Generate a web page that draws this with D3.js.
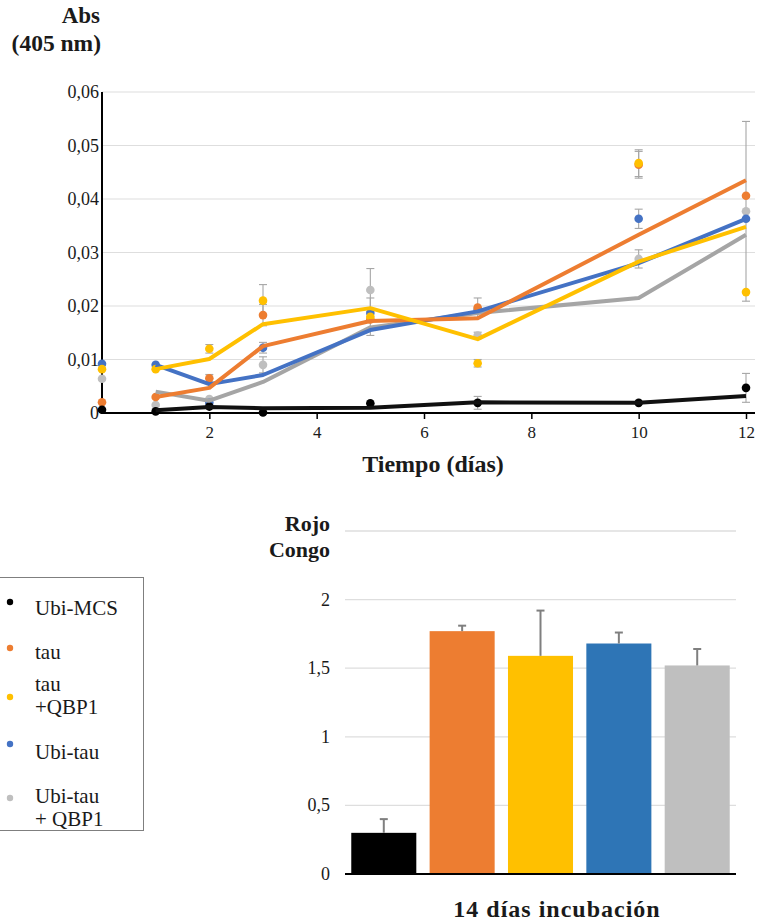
<!DOCTYPE html>
<html>
<head>
<meta charset="utf-8">
<script src="https://cdn.jsdelivr.net/npm/d3@7/dist/d3.min.js"></script>
<style>
  html, body { margin: 0; padding: 0; background: #fff; }
  svg { display: block; }
</style>
</head>
<body>
<svg id="chart" width="769" height="923"></svg>
<script>
// ---- Absorbance over time (top panel) ----
const days = [0, 1, 2, 3, 5, 7, 10, 12];          // days with measured points
const lineDays = [1, 2, 3, 5, 7, 10, 12];         // days on the trend lines
const xTicks = [2, 4, 6, 8, 10, 12];
const yTicksAbs = [0, 0.01, 0.02, 0.03, 0.04, 0.05, 0.06];

const seriesNames = ["Ubi-MCS", "tau", "tau +QBP1", "Ubi-tau", "Ubi-tau + QBP1"];

// measured points
const ptsMCS      = [0.0006, 0.0003, 0.0012, 0.0001, 0.0018, 0.0019, 0.0019, 0.0047];
const ptsTau      = [0.0020, 0.0030, 0.0065, 0.0183, 0.0175, 0.0197, 0.0464, 0.0406];
const ptsTauQ     = [0.0082, 0.0082, 0.0120, 0.0210, 0.0180, 0.0093, 0.0467, 0.0226];
const ptsUbiTau   = [0.0092, 0.0090, 0.0019, 0.0122, 0.0187, 0.0193, 0.0363, 0.0363];
const ptsUbiTauQ  = [0.0064, 0.0015, 0.0026, 0.0090, 0.0230, 0.0145, 0.0288, 0.0377];

// error (± half-width) for each measured point
const errMCS      = [0, 0, 0, 0, 0, 0.0012, 0, 0.0027];
const errTau      = [0, 0, 0.0007, 0.0020, 0, 0.0018, 0.0025, 0];
const errTauQ     = [0, 0, 0.0008, 0.0030, 0.0035, 0.0007, 0.0025, 0];
const errUbiTau   = [0, 0, 0, 0.0010, 0, 0, 0.0018, 0];
const errUbiTauQ  = [0, 0, 0, 0.0015, 0.0040, 0.0006, 0.0017, 0.0168];

// trend lines
const lineMCS     = [0.0005, 0.0011, 0.0009, 0.0010, 0.0020, 0.0019, 0.0032];
const lineTau     = [0.0030, 0.0047, 0.0125, 0.0172, 0.0177, 0.0333, 0.0435];
const lineTauQ    = [0.0082, 0.0101, 0.0166, 0.0196, 0.0138, 0.0283, 0.0348];
const lineUbiTau  = [0.0090, 0.0054, 0.0071, 0.0155, 0.0190, 0.0280, 0.0363];
const lineUbiTauQ = [0.0040, 0.0023, 0.0058, 0.0160, 0.0187, 0.0215, 0.0333];

// ---- Congo red at 14 days (bottom panel) ----
const barValues = [0.30, 1.77, 1.59, 1.68, 1.52];
const barErrors = [0.10, 0.04, 0.33, 0.08, 0.12];
const yTicksCongo = [0, 0.5, 1, 1.5, 2];

const dotColors  = ["#000000", "#ED7D31", "#FFC000", "#4472C4", "#BFBFBF"];
const lineColors = ["#111111", "#ED7D31", "#FFC000", "#4472C4", "#A5A5A5"];
const barColors  = ["#000000", "#ED7D31", "#FFC000", "#2E75B6", "#BFBFBF"];

const SERIF = "'Liberation Serif', 'Times New Roman', Times, 'DejaVu Serif', serif";
const comma = v => String(v).replace(".", ",");

const svg = d3.select("#chart");

// ================= top panel =================
const x = d3.scaleLinear().domain([0, 12]).range([102, 746]);
const y = d3.scaleLinear().domain([0, 0.06]).range([413, 92]);
const xEnd = 755;

const gTop = svg.append("g");

// grid
gTop.append("g").selectAll("line").data(yTicksAbs.filter(d => d > 0)).join("line")
  .attr("x1", x(0)).attr("x2", xEnd)
  .attr("y1", d => y(d)).attr("y2", d => y(d))
  .attr("stroke", "#dedede").attr("stroke-width", 1.2);

// y tick labels
gTop.append("g").selectAll("text").data(yTicksAbs).join("text")
  .attr("x", 99).attr("y", d => y(d) + 6)
  .attr("text-anchor", "end").attr("font-size", 18)
  .text(d => d === 0 ? "0" : comma(d3.format(".2f")(d)));

// x axis
const xAxis = gTop.append("g").attr("transform", `translate(0,${y(0)})`)
  .call(d3.axisBottom(x).tickValues(xTicks).tickSize(6).tickFormat(d3.format("d")));
xAxis.select(".domain").attr("d", `M${x(0)},0H${xEnd}`).attr("stroke", "#000").attr("stroke-width", 2);
xAxis.selectAll(".tick line").attr("stroke", "#000").attr("stroke-width", 1.5);
xAxis.selectAll(".tick text").attr("font-size", 17).attr("dy", "0.95em");

// y axis line
gTop.append("line").attr("x1", x(0)).attr("x2", x(0)).attr("y1", y(0.06)).attr("y2", y(0) + 1)
  .attr("stroke", "#000").attr("stroke-width", 2);

const pts  = [ptsMCS, ptsTau, ptsTauQ, ptsUbiTau, ptsUbiTauQ];
const errs = [errMCS, errTau, errTauQ, errUbiTau, errUbiTauQ];
const lines = [lineMCS, lineTau, lineTauQ, lineUbiTau, lineUbiTauQ];

// error bars
pts.forEach((s, si) => {
  const g = gTop.append("g").attr("stroke", "#a6a6a6").attr("stroke-width", 1.1);
  s.forEach((v, i) => {
    const e = errs[si][i];
    if (!e) return;
    const cx = x(days[i]);
    g.append("line").attr("x1", cx).attr("x2", cx).attr("y1", y(v - e)).attr("y2", y(v + e));
    g.append("line").attr("x1", cx - 4).attr("x2", cx + 4).attr("y1", y(v - e)).attr("y2", y(v - e));
    g.append("line").attr("x1", cx - 4).attr("x2", cx + 4).attr("y1", y(v + e)).attr("y2", y(v + e));
  });
});

// measured points
[4, 3, 1, 2, 0].forEach(si => {
  gTop.append("g").selectAll("circle").data(pts[si]).join("circle")
    .attr("cx", (d, i) => x(days[i])).attr("cy", d => y(d))
    .attr("r", 4.3).attr("fill", dotColors[si]);
});

// trend lines
const line = d3.line().x((d, i) => x(lineDays[i])).y(d => y(d));
[4, 3, 1, 2, 0].forEach(si => {
  gTop.append("path").datum(lines[si])
    .attr("d", line).attr("fill", "none")
    .attr("stroke", lineColors[si]).attr("stroke-width", 4)
    .attr("stroke-linejoin", "round");
});

// titles
gTop.append("text").attr("x", 100).attr("y", 23).attr("text-anchor", "end")
  .attr("font-size", 23).attr("font-weight", "bold").text("Abs");
gTop.append("text").attr("x", 101).attr("y", 51).attr("text-anchor", "end")
  .attr("font-size", 23.5).attr("font-weight", "bold").text("(405 nm)");
gTop.append("text").attr("x", 433).attr("y", 472).attr("text-anchor", "middle")
  .attr("font-size", 24).attr("font-weight", "bold").text("Tiempo (días)");

// ================= legend =================
const leg = svg.append("g");
leg.append("rect").attr("x", -1).attr("y", 577.5).attr("width", 144.5).attr("height", 253)
  .attr("fill", "#fff").attr("stroke", "#7f7f7f").attr("stroke-width", 1);
const legRows = [
  { dot: 602, lines: ["Ubi-MCS"], base: 615 },
  { dot: 648, lines: ["tau"], base: 659 },
  { dot: 697, lines: ["tau", "+QBP1"], base: 691 },
  { dot: 744, lines: ["Ubi-tau"], base: 759 },
  { dot: 798, lines: ["Ubi-tau", "+ QBP1"], base: 803 }
];
legRows.forEach((r, i) => {
  leg.append("circle").attr("cx", 10).attr("cy", r.dot).attr("r", 3.2).attr("fill", dotColors[i]);
  const t = leg.append("text").attr("x", 35).attr("y", r.base).attr("font-size", 21);
  r.lines.forEach((l, j) => t.append("tspan").attr("x", 35).attr("dy", j ? 23 : 0).text(l));
});

// ================= bottom panel =================
const xb = d3.scaleBand().domain(seriesNames).range([345, 736]).paddingInner(0.17).paddingOuter(0.08);
const yb = d3.scaleLinear().domain([0, 2.5]).range([874, 531]);

const bot = svg.append("g");
bot.append("g").selectAll("line").data([0.5, 1, 1.5, 2, 2.5]).join("line")
  .attr("x1", 345).attr("x2", 736)
  .attr("y1", d => yb(d)).attr("y2", d => yb(d))
  .attr("stroke", "#dedede").attr("stroke-width", 1.3);

bot.append("g").selectAll("text").data(yTicksCongo).join("text")
  .attr("x", 330).attr("y", d => yb(d) + 6).attr("text-anchor", "end")
  .attr("font-size", 18).text(d => comma(d));

bot.append("g").selectAll("rect").data(barValues).join("rect")
  .attr("x", (d, i) => xb(seriesNames[i])).attr("width", xb.bandwidth())
  .attr("y", d => yb(d)).attr("height", d => yb(0) - yb(d))
  .attr("fill", (d, i) => barColors[i]);

const eb = bot.append("g").attr("stroke", "#7f7f7f").attr("stroke-width", 2);
barValues.forEach((v, i) => {
  const cx = xb(seriesNames[i]) + xb.bandwidth() / 2;
  eb.append("line").attr("x1", cx).attr("x2", cx).attr("y1", yb(v)).attr("y2", yb(v + barErrors[i]));
  eb.append("line").attr("x1", cx - 4).attr("x2", cx + 4)
    .attr("y1", yb(v + barErrors[i])).attr("y2", yb(v + barErrors[i]));
});

bot.append("line").attr("x1", 345).attr("x2", 736).attr("y1", yb(0)).attr("y2", yb(0))
  .attr("stroke", "#000").attr("stroke-width", 2);

bot.append("text").attr("x", 330).attr("y", 531).attr("text-anchor", "end")
  .attr("font-size", 22).attr("font-weight", "bold").text("Rojo");
bot.append("text").attr("x", 330).attr("y", 557).attr("text-anchor", "end")
  .attr("font-size", 22).attr("font-weight", "bold").text("Congo");
bot.append("text").attr("x", 557).attr("y", 917).attr("text-anchor", "middle")
  .attr("font-size", 24).attr("font-weight", "bold").attr("letter-spacing", 1)
  .text("14 días incubación");

// every label uses the same serif face and dark ink
svg.selectAll("text").style("font-family", SERIF).style("fill", "#1a1a1a");
</script>
</body>
</html>
